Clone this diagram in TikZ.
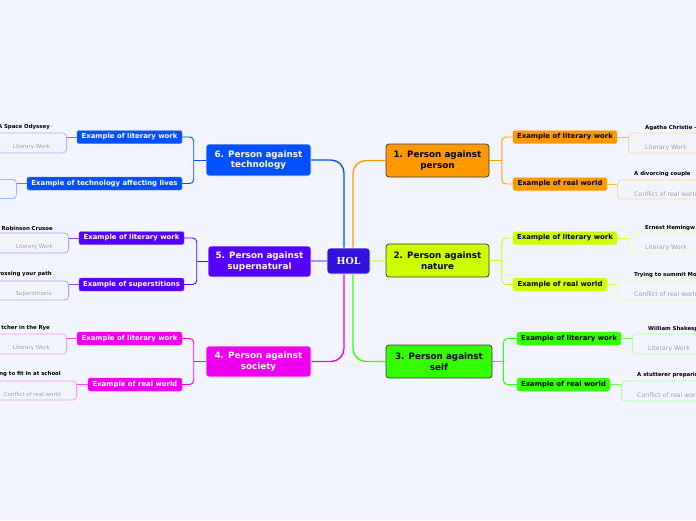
\documentclass[tikz,border=0pt]{standalone}
\usepackage{fontspec}
\setmainfont{DejaVu Sans}
\newfontfamily\holfont{DejaVu Serif}
\usetikzlibrary{calc}
\definecolor{cOr}{RGB}{255,153,0}
\definecolor{cYe}{RGB}{204,255,0}
\definecolor{cGr}{RGB}{51,255,0}
\definecolor{cBl}{RGB}{0,80,255}
\definecolor{cPu}{RGB}{85,0,255}
\definecolor{cMa}{RGB}{238,0,238}
\definecolor{cHol}{RGB}{51,17,221}
\definecolor{bgc}{RGB}{243,245,254}
\definecolor{dkb}{RGB}{60,60,60}
\definecolor{gtx}{RGB}{160,160,165}
\tikzset{
  mainR/.style={rounded corners=3pt, draw=dkb, line width=0.8pt, minimum width=103pt, minimum height=33pt, inner sep=0pt, align=center, text=black, font=\fontsize{8.8}{10.5}\selectfont\bfseries},
  mainL/.style={rounded corners=3pt, draw=white, line width=0.6pt, minimum width=105pt, minimum height=32pt, inner sep=0pt, align=center, text=white, font=\fontsize{8.8}{10.5}\selectfont\bfseries},
  subR/.style={rounded corners=2pt, draw=#1!70!white, line width=0.4pt, fill=#1, minimum height=13pt, inner sep=0pt, text=black, font=\fontsize{6.9}{8}\selectfont\bfseries},
  subL/.style={rounded corners=2pt, draw=#1!70!white, line width=0.4pt, fill=#1, minimum height=13pt, inner sep=0pt, text=white, font=\fontsize{6.9}{8}\selectfont\bfseries},
  leafbox/.style={rounded corners=4pt, draw=#1!40!white, line width=0.8pt, minimum width=130pt, inner sep=0pt},
  ttl/.style={inner sep=0pt, text=black, font=\fontsize{5.4}{6}\selectfont\bfseries},
  subtR/.style={inner sep=0pt, text=gtx, font=\fontsize{6.2}{7}\selectfont},
  subtL/.style={inner sep=0pt, text=gtx, font=\fontsize{5.5}{6.5}\selectfont},
  conn/.style={line width=1.3pt, draw=#1},
  sconn/.style={line width=0.9pt, draw=#1, rounded corners=4pt},
  lconn/.style={line width=0.9pt, draw=#1!70!white},
}
\begin{document}
\begin{tikzpicture}[x=1pt,y=-1pt]
\fill[bgc] (0,0) rectangle (696,520);
\useasboundingbox (0,0) rectangle (696,520);
\clip (0,0) rectangle (696,520);

% central node
\node[rounded corners=3pt, fill=cHol, draw=white, line width=0.8pt, minimum width=43pt, minimum height=26pt, inner sep=0pt, text=white, font=\holfont\fontsize{9.5}{11}\selectfont\bfseries] (hol) at (348.5,261) {HOL};

% main nodes
\node[mainR, fill=cOr] (n1) at (437.5,160.5) {1. Person against\\person};
\node[mainR, fill=cYe] (n2) at (437.5,260.5) {2. Person against\\nature};
\node[mainR, fill=cGr, minimum width=106pt] (n3) at (439,361.5) {3. Person against\\self};
\node[mainL, fill=cBl] (n6) at (258.5,160) {6. Person against\\technology};
\node[mainL, fill=cPu, minimum width=103pt, minimum height=31pt] (n5) at (259.5,261.5) {5. Person against\\supernatural};
\node[mainL, fill=cMa, minimum height=31pt] (n4) at (258.5,361.5) {4. Person against\\society};

% connectors from HOL
\draw[conn=cOr, rounded corners=13pt] ($(hol.north)+(4.5,0)$) |- (n1.west);
\draw[conn=cBl, rounded corners=13pt] ($(hol.north)+(-4.5,0)$) |- (n6.east);
\draw[conn=cGr, rounded corners=13pt] ($(hol.south)+(4.5,0)$) |- (n3.west);
\draw[conn=cMa, rounded corners=13pt] ($(hol.south)+(-4.5,0)$) |- (n4.east);
\draw[conn=cYe!60!white] (hol.east) -- (hol.east -| n2.west);
\draw[conn=cPu!45!white] (hol.west) -- (hol.west -| n5.east);

% sub nodes right
\node[subR=cOr, minimum width=104pt] (s1a) at (565,137) {Example of literary work};
\node[subR=cOr, minimum width=94pt] (s1b) at (560,184) {Example of real world};
\node[subR=cYe, minimum width=104pt] (s2a) at (565,238) {Example of literary work};
\node[subR=cYe, minimum width=94pt] (s2b) at (560,284.5) {Example of real world};
\node[subR=cGr, minimum width=104pt] (s3a) at (569,338.5) {Example of literary work};
\node[subR=cGr, minimum width=93pt] (s3b) at (563.5,384.5) {Example of real world};
% sub nodes left
\node[subL=cBl, minimum width=105pt] (s6a) at (129.5,137) {Example of literary work};
\node[subL=cBl, minimum width=155pt] (s6b) at (104.5,183.5) {Example of technology affecting lives};
\node[subL=cPu, minimum width=105pt] (s5a) at (131.5,238) {Example of literary work};
\node[subL=cPu, minimum width=105pt] (s5b) at (131.5,284.5) {Example of superstitions};
\node[subL=cMa, minimum width=105pt] (s4a) at (129.5,338.5) {Example of literary work};
\node[subL=cMa, minimum width=94pt] (s4b) at (135,384.5) {Example of real world};

% brackets main -> sub
\coordinate (b1) at ($(n1.east)+(12.5,0)$);
\draw[sconn=cOr] (n1.east) -- (b1);
\draw[sconn=cOr] (s1a.west) -| (b1) |- (s1b.west);
\coordinate (b2) at ($(n2.east)+(12.5,0)$);
\draw[sconn=cYe] (n2.east) -- (b2);
\draw[sconn=cYe] (s2a.west) -| (b2) |- (s2b.west);
\coordinate (b3) at ($(n3.east)+(11,0)$);
\draw[sconn=cGr] (n3.east) -- (b3);
\draw[sconn=cGr] (s3a.west) -| (b3) |- (s3b.west);
\coordinate (b6) at ($(n6.west)+(-12,0)$);
\draw[sconn=cBl] (n6.west) -- (b6);
\draw[sconn=cBl] (s6a.east) -| (b6) |- (s6b.east);
\coordinate (b5) at ($(n5.west)+(-11,0)$);
\draw[sconn=cPu] (n5.west) -- (b5);
\draw[sconn=cPu] (s5a.east) -| (b5) |- (s5b.east);
\coordinate (b4) at ($(n4.west)+(-12,0)$);
\draw[sconn=cMa] (n4.west) -- (b4);
\draw[sconn=cMa] (s4a.east) -| (b4) |- (s4b.east);

% leaves right
\node[leafbox=cOr, anchor=west, minimum height=20pt] (l1a) at (628,143) {};
\node[leafbox=cOr, anchor=west, minimum height=19pt] (l1b) at (617,189.5) {};
\node[leafbox=cYe, anchor=west, minimum height=20pt] (l2a) at (628,243) {};
\node[leafbox=cYe, anchor=west, minimum height=19pt] (l2b) at (617,290.5) {};
\node[leafbox=cGr, anchor=west, minimum height=20pt] (l3a) at (632,344) {};
\node[leafbox=cGr, anchor=west, minimum height=20pt] (l3b) at (621,391) {};
% leaves left
\node[leafbox=cBl, anchor=east, minimum height=20pt] (l6a) at (67,143) {};
\node[leafbox=cBl, anchor=east, minimum height=19pt] (l6b) at (17,189) {};
\node[leafbox=cPu, anchor=east, minimum height=20pt] (l5a) at (69,243) {};
\node[leafbox=cPu, anchor=east, minimum height=19pt] (l5b) at (69,290.5) {};
\node[leafbox=cMa, anchor=east, minimum height=20pt] (l4a) at (67,344) {};
\node[leafbox=cMa, anchor=east, minimum height=19pt] (l4b) at (77,390.5) {};

% sub -> leaf connectors
\draw[lconn=cOr] (s1a.east) -- (s1a.east -| l1a.west);
\draw[lconn=cOr] (s1b.east) -- (s1b.east -| l1b.west);
\draw[lconn=cYe] (s2a.east) -- (s2a.east -| l2a.west);
\draw[lconn=cYe] (s2b.east) -- (s2b.east -| l2b.west);
\draw[lconn=cGr] (s3a.east) -- (s3a.east -| l3a.west);
\draw[lconn=cGr] (s3b.east) -- (s3b.east -| l3b.west);
\draw[lconn=cBl] (s6a.west) -- (s6a.west -| l6a.east);
\draw[lconn=cBl] (s6b.west) -- (s6b.west -| l6b.east);
\draw[lconn=cPu] (s5a.west) -- (s5a.west -| l5a.east);
\draw[lconn=cPu] (s5b.west) -- (s5b.west -| l5b.east);
\draw[lconn=cMa] (s4a.west) -- (s4a.west -| l4a.east);
\draw[lconn=cMa] (s4b.west) -- (s4b.west -| l4b.east);

% leaf texts right
\node[ttl, anchor=west] (t1a) at (645,128) {Agatha Christie -};
\node[subtR, anchor=west] (u1a) at (645,147.5) {Literary Work};
\node[ttl, anchor=west] (t1b) at (634,174) {A divorcing couple};
\node[subtR, anchor=west] (u1b) at (634,194) {Conflict of real world};
\node[ttl, anchor=west] (t2a) at (645,228) {Ernest Hemingw};
\node[subtR, anchor=west] (u2a) at (645,248) {Literary Work};
\node[ttl, anchor=west] (t2b) at (634,275) {Trying to summit Mo};
\node[subtR, anchor=west] (u2b) at (634,294.5) {Conflict of real world};
\node[ttl, anchor=west] (t3a) at (648,329) {William Shakesp};
\node[subtR, anchor=west] (u3a) at (648,348.5) {Literary Work};
\node[ttl, anchor=west] (t3b) at (637,375) {A stutterer preparin};
\node[subtR, anchor=west] (u3b) at (637,395) {Conflict of real world};
% leaf texts left
\node[ttl, anchor=east] (t6a) at (50,127) {A Space Odyssey};
\node[subtL, anchor=east] (u6a) at (50,147) {Literary Work};
\node[ttl, anchor=east] (t5a) at (53,228) {Robinson Crusoe};
\node[subtL, anchor=east] (u5a) at (53,247) {Literary Work};
\node[ttl, anchor=east] (t5b) at (52,274) {rossing your path};
\node[subtL, anchor=east] (u5b) at (52,294) {Superstitions};
\node[ttl, anchor=east] (t4a) at (50,328) {tcher in the Rye};
\node[subtL, anchor=east] (u4a) at (50,348) {Literary Work};
\node[ttl, anchor=east] (t4b) at (61,374) {ng to fit in at school};
\node[subtL, anchor=east] (u4b) at (61,394) {Conflict of real world};
\end{tikzpicture}
\end{document}
